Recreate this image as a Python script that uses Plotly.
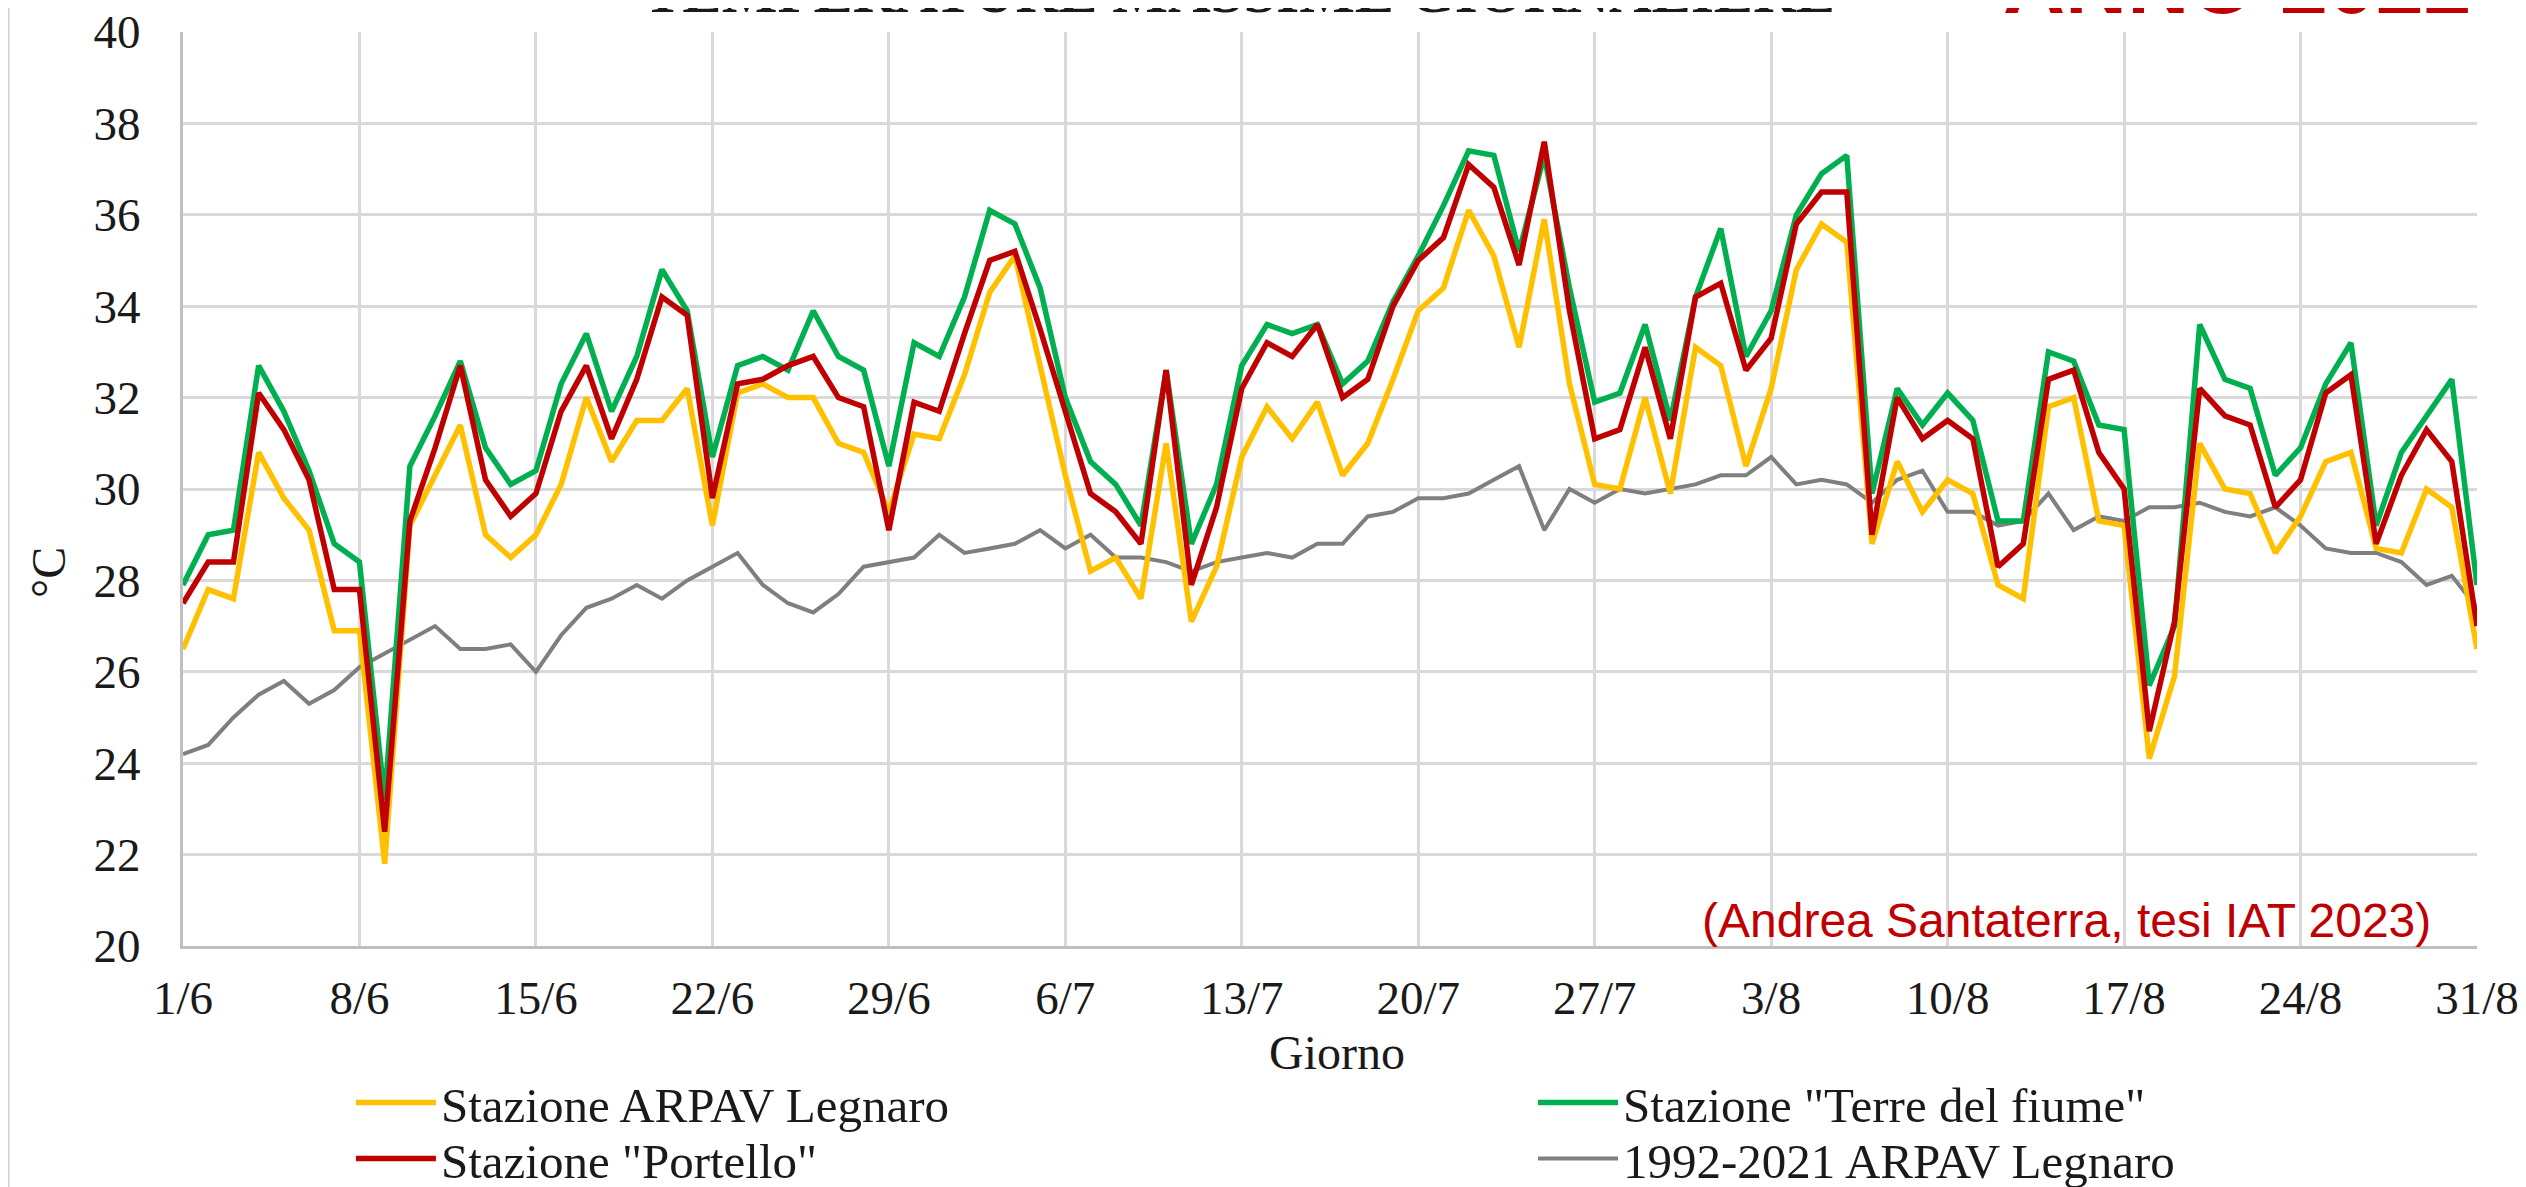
import plotly.graph_objects as go

# Giorni 1/6 - 31/8
days = ([f"{d}/6" for d in range(1, 31)] + [f"{d}/7" for d in range(1, 32)]
        + [f"{d}/8" for d in range(1, 32)])
tick_labels = ["1/6", "8/6", "15/6", "22/6", "29/6", "6/7", "13/7", "20/7",
               "27/7", "3/8", "10/8", "17/8", "24/8", "31/8"]

# Temperature massime giornaliere (°C)
legnaro = [26.5, 27.8, 27.6, 30.8, 29.8, 29.1, 26.9, 26.9, 21.8, 29.2,
           30.3, 31.4, 29.0, 28.5, 29.0, 30.1, 32.0, 30.6, 31.5, 31.5,
           32.2, 29.2, 32.1, 32.3, 32.0, 32.0, 31.0, 30.8, 29.5, 31.2,
           31.1, 32.5, 34.3, 35.1, 32.7, 30.3, 28.2, 28.5, 27.6, 31.0,
           27.1, 28.3, 30.7, 31.8, 31.1, 31.9, 30.3, 31.0, 32.4, 33.9,
           34.4, 36.1, 35.1, 33.1, 35.9, 32.3, 30.1, 30.0, 32.0, 29.9,
           33.1, 32.7, 30.5, 32.2, 34.8, 35.8, 35.4, 28.8, 30.6, 29.5,
           30.2, 29.9, 27.9, 27.6, 31.8, 32.0, 29.3, 29.2, 24.1, 25.9,
           31.0, 30.0, 29.9, 28.6, 29.4, 30.6, 30.8, 28.7, 28.6, 30.0,
           29.6, 26.5]
terre_fiume = [27.9, 29.0, 29.1, 32.7, 31.7, 30.4, 28.8, 28.4, 23.2, 30.5,
               31.6, 32.8, 30.9, 30.1, 30.4, 32.3, 33.4, 31.7, 32.9, 34.8,
               33.9, 30.7, 32.7, 32.9, 32.6, 33.9, 32.9, 32.6, 30.5, 33.2,
               32.9, 34.2, 36.1, 35.8, 34.4, 32.0, 30.6, 30.1, 29.2, 32.6,
               28.8, 30.1, 32.7, 33.6, 33.4, 33.6, 32.3, 32.8, 34.1, 35.1,
               36.2, 37.4, 37.3, 35.2, 37.3, 34.4, 31.9, 32.1, 33.6, 31.5,
               34.2, 35.7, 32.9, 33.9, 36.0, 36.9, 37.3, 29.9, 32.2, 31.4,
               32.1, 31.5, 29.3, 29.3, 33.0, 32.8, 31.4, 31.3, 25.7, 27.0,
               33.6, 32.4, 32.2, 30.3, 30.9, 32.3, 33.2, 29.2, 30.8, 31.6,
               32.4, 27.9]
portello = [27.5, 28.4, 28.4, 32.1, 31.3, 30.2, 27.8, 27.8, 22.5, 29.3,
            30.9, 32.7, 30.2, 29.4, 29.9, 31.7, 32.7, 31.1, 32.4, 34.2,
            33.8, 29.8, 32.3, 32.4, 32.7, 32.9, 32.0, 31.8, 29.1, 31.9,
            31.7, 33.4, 35.0, 35.2, 33.5, 31.7, 29.9, 29.5, 28.8, 32.6,
            27.9, 29.6, 32.2, 33.2, 32.9, 33.6, 32.0, 32.4, 34.0, 35.0,
            35.5, 37.1, 36.6, 34.9, 37.6, 33.9, 31.1, 31.3, 33.1, 31.1,
            34.2, 34.5, 32.6, 33.3, 35.8, 36.5, 36.5, 29.0, 32.0, 31.1,
            31.5, 31.1, 28.3, 28.8, 32.4, 32.6, 30.8, 30.0, 24.7, 27.1,
            32.2, 31.6, 31.4, 29.6, 30.2, 32.1, 32.5, 28.8, 30.3, 31.3,
            30.6, 27.0]
clima_1992_2021 = [24.2, 24.4, 25.0, 25.5, 25.8, 25.3, 25.6, 26.1, 26.4, 26.7,
                   27.0, 26.5, 26.5, 26.6, 26.0, 26.8, 27.4, 27.6, 27.9, 27.6,
                   28.0, 28.3, 28.6, 27.9, 27.5, 27.3, 27.7, 28.3, 28.4, 28.5,
                   29.0, 28.6, 28.7, 28.8, 29.1, 28.7, 29.0, 28.5, 28.5, 28.4,
                   28.2, 28.4, 28.5, 28.6, 28.5, 28.8, 28.8, 29.4, 29.5, 29.8,
                   29.8, 29.9, 30.2, 30.5, 29.1, 30.0, 29.7, 30.0, 29.9, 30.0,
                   30.1, 30.3, 30.3, 30.7, 30.1, 30.2, 30.1, 29.7, 30.2, 30.4,
                   29.5, 29.5, 29.2, 29.3, 29.9, 29.1, 29.4, 29.3, 29.6, 29.6,
                   29.7, 29.5, 29.4, 29.6, 29.2, 28.7, 28.6, 28.6, 28.4, 27.9,
                   28.1, 27.4]

serif = "Liberation Serif"
txt = "#1a1a1a"

fig = go.Figure()
# grigio sotto, rosso sopra; una legenda per voce per posizionarle come nell'originale
fig.add_trace(go.Scatter(x=days, y=clima_1992_2021, mode="lines",
                         name="1992-2021 ARPAV Legnaro", legend="legend4",
                         line=dict(color="#7f7f7f", width=4)))
fig.add_trace(go.Scatter(x=days, y=legnaro, mode="lines",
                         name="Stazione ARPAV Legnaro", legend="legend",
                         line=dict(color="#FFC000", width=5.5)))
fig.add_trace(go.Scatter(x=days, y=terre_fiume, mode="lines",
                         name='Stazione "Terre del fiume"', legend="legend2",
                         line=dict(color="#00B050", width=5.5)))
fig.add_trace(go.Scatter(x=days, y=portello, mode="lines",
                         name='Stazione "Portello"', legend="legend3",
                         line=dict(color="#C00000", width=5.5)))

fig.update_xaxes(type="category", range=[0, len(days) - 1], automargin=False,
                 tickmode="array", tickvals=tick_labels, ticktext=tick_labels,
                 showgrid=True, gridcolor="#d9d9d9", gridwidth=2.5,
                 showline=True, linecolor="#bfbfbf", linewidth=3,
                 ticks="", ticklabelstandoff=9, ticklabeloverflow="allow",
                 tickfont=dict(family=serif, size=47, color=txt))
fig.update_yaxes(range=[20, 40], dtick=2, automargin=False, showgrid=True,
                 gridcolor="#d9d9d9", gridwidth=2.5, showline=True,
                 linecolor="#bfbfbf", linewidth=3,
                 zeroline=False, ticks="", ticklabelstandoff=30,
                 ticklabeloverflow="allow",
                 tickfont=dict(family=serif, size=47, color=txt))

fig.add_annotation(text="<b>TEMPERATURE MASSIME GIORNALIERE</b>", x=0.4603, y=1.0053,
                   xref="paper", yref="paper", xanchor="center", yanchor="bottom",
                   showarrow=False, font=dict(family=serif, size=59, color=txt))
fig.add_annotation(text="<b>ANNO 2022</b>", x=0.9983, y=0.9987,
                   xref="paper", yref="paper", xanchor="right", yanchor="bottom",
                   showarrow=False,
                   font=dict(family="Liberation Sans", size=86, color="#C00000"))
fig.add_annotation(text="(Andrea Santaterra, tesi IAT 2023)", x=0.9808, y=0.0284,
                   xref="paper", yref="paper", xanchor="right", yanchor="middle",
                   showarrow=False,
                   font=dict(family="Liberation Sans", size=48, color="#C00000"))
fig.add_annotation(text="°C", x=-0.0589, y=0.409, xref="paper", yref="paper",
                   xanchor="center", yanchor="middle", textangle=-90, showarrow=False,
                   font=dict(family=serif, size=48, color=txt))
fig.add_annotation(text="Giorno", x=0.503, y=-0.116, xref="paper", yref="paper",
                   xanchor="center", yanchor="middle", showarrow=False,
                   font=dict(family=serif, size=48, color=txt))

# bordo sinistro del riquadro
fig.add_shape(type="line", xref="paper", yref="paper", x0=-0.0763, x1=-0.0763,
              y0=-0.28, y1=1.05, line=dict(color="#d0d0d0", width=3))

leg_common = dict(orientation="v", xanchor="left", yanchor="middle",
                  itemwidth=80, font=dict(family=serif, size=49, color=txt),
                  bgcolor="rgba(0,0,0,0)")
col1, col2 = 0.0732, 0.5885
row1, row2 = -0.1713, -0.2326

fig.update_layout(
    width=2526, height=1187,
    # la pagina aggiunge 8 px di margine: compensati qui
    margin=dict(l=175, r=57, t=24, b=249, autoexpand=False),
    paper_bgcolor="white", plot_bgcolor="white",
    showlegend=True,
    legend=dict(x=col1, y=row1, **leg_common),
    legend2=dict(x=col2, y=row1, **leg_common),
    legend3=dict(x=col1, y=row2, **leg_common),
    legend4=dict(x=col2, y=row2, **leg_common),
)

fig.write_html("out.html")
